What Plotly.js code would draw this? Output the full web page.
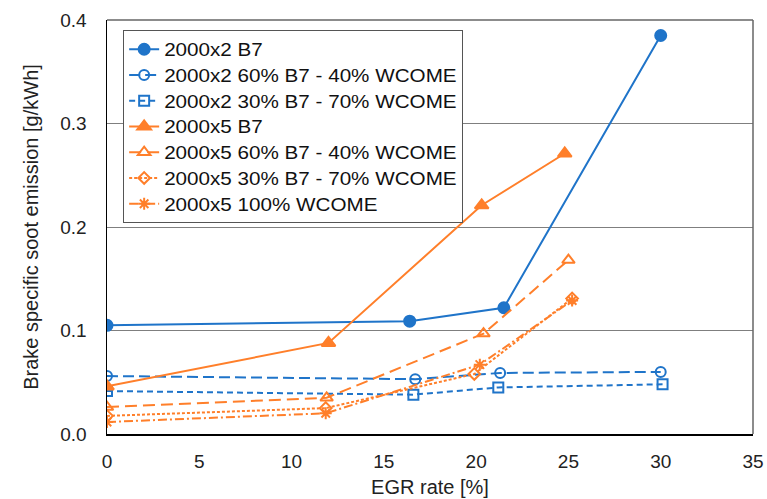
<!DOCTYPE html>
<html>
<head>
<meta charset="utf-8">
<script src="https://cdn.plot.ly/plotly-3.0.1.min.js"></script>
<style>
html,body{margin:0;padding:0;background:#fff;}
#chart{width:767px;height:499px;}
.legendtext{transform-box:fill-box;transform-origin:left center;transform:scaleX(1.18);}
</style>
</head>
<body>
<div id="chart"></div>
<script>
// Data
const seriesNames = [
  "2000x2 B7",
  "2000x2 60% B7 - 40% WCOME",
  "2000x2 30% B7 - 70% WCOME",
  "2000x5 B7",
  "2000x5 60% B7 - 40% WCOME",
  "2000x5 30% B7 - 70% WCOME",
  "2000x5 100% WCOME"
];
const x_2x_B7 = [0, 16.4, 21.5, 30.0];
const y_2x_B7 = [0.105, 0.109, 0.122, 0.385];
const x_2x_60 = [0, 16.7, 21.3, 30.0];
const y_2x_60 = [0.056, 0.053, 0.059, 0.060];
const x_2x_30 = [0, 16.6, 21.2, 30.1];
const y_2x_30 = [0.0415, 0.038, 0.045, 0.048];
const x_5x_B7 = [0, 12.0, 20.3, 24.8];
const y_5x_B7 = [0.046, 0.088, 0.221, 0.271];
const x_5x_60 = [0, 11.9, 20.4, 25.0];
const y_5x_60 = [0.026, 0.035, 0.097, 0.168];
const x_5x_30 = [0, 11.85, 19.9, 25.2];
const y_5x_30 = [0.0175, 0.025, 0.058, 0.131];
const x_5x_100 = [0, 11.85, 20.2, 25.2];
const y_5x_100 = [0.0116, 0.020, 0.067, 0.129];
const xTicks = [0, 5, 10, 15, 20, 25, 30, 35];
const yTicks = [0.0, 0.1, 0.2, 0.3, 0.4];

const BLUE = "#1f74c9";
const ORANGE = "#ff7f2a";

function tr(name, xs, ys, color, dash, symbol, msize) {
  return {
    type: "scatter", mode: "lines+markers", name: name, x: xs, y: ys,
    line: {color: color, width: 2, dash: dash},
    marker: {color: color, symbol: symbol, size: msize, line: {color: color, width: 2}}
  };
}

const data = [
  tr(seriesNames[0], x_2x_B7, y_2x_B7, BLUE, "solid", "circle", 11),
  tr(seriesNames[1], x_2x_60, y_2x_60, BLUE, "11px,5px", "circle-open", 10),
  tr(seriesNames[2], x_2x_30, y_2x_30, BLUE, "6px,4px", "square-open", 10),
  tr(seriesNames[3], x_5x_B7, y_5x_B7, ORANGE, "solid", "triangle-up", 12),
  tr(seriesNames[4], x_5x_60, y_5x_60, ORANGE, "12px,6px", "triangle-up-open", 11),
  tr(seriesNames[5], x_5x_30, y_5x_30, ORANGE, "3px,2px", "diamond-open", 9),
  tr(seriesNames[6], x_5x_100, y_5x_100, ORANGE, "9px,3px,2px,3px", "asterisk-open", 10)
];

const fontFam = "Liberation Sans, Arial, sans-serif";
const FT = 19;   // tick labels
const FA = 20;   // axis titles
const FL = 17.5; // legend
const layout = {
  width: 767, height: 499,
  margin: {l: 107, r: 14, t: 20, b: 65, pad: 0},
  paper_bgcolor: "#fff", plot_bgcolor: "#fff",
  font: {family: fontFam, size: FT, color: "#222"},
  showlegend: true,
  legend: {
    x: 0.025, y: 0.975, xanchor: "left", yanchor: "top",
    bgcolor: "#fff", bordercolor: "#555", borderwidth: 1,
    font: {family: fontFam, size: FL, color: "#111"},
    itemwidth: 30, tracegroupgap: 0
  },
  xaxis: {
    range: [0, 35], tickvals: xTicks, ticktext: xTicks.map(String),
    showgrid: false, zeroline: false,
    showline: true, linecolor: "#000", linewidth: 1.5, mirror: false,
    ticks: "outside", ticklen: 10, tickcolor: "rgba(0,0,0,0)",
    tickfont: {family: fontFam, size: FT, color: "#222"},
    title: {text: "EGR rate [%]", font: {family: fontFam, size: FA, color: "#222"}, standoff: 8}
  },
  yaxis: {
    range: [0, 0.4], tickvals: yTicks, ticktext: yTicks.map(v => v.toFixed(1)),
    showgrid: true, gridcolor: "#7f7f7f", gridwidth: 1, zeroline: false,
    showline: true, linecolor: "#000", linewidth: 1.5,
    ticks: "outside", ticklen: 15, tickcolor: "rgba(0,0,0,0)",
    tickfont: {family: fontFam, size: FT, color: "#222"},
    title: {text: "Brake specific soot emission [g/kWh]", font: {family: fontFam, size: FA, color: "#222"}, standoff: 16}
  },
  shapes: [
    {type: "line", xref: "paper", yref: "paper", x0: 0, x1: 1, y0: 1, y1: 1, line: {color: "#666", width: 1.5}},
    {type: "line", xref: "paper", yref: "paper", x0: 1, x1: 1, y0: 0, y1: 1, line: {color: "#666", width: 1.5}}
  ]
};

Plotly.newPlot("chart", data, layout, {displayModeBar: false, staticPlot: true});
</script>
</body>
</html>
